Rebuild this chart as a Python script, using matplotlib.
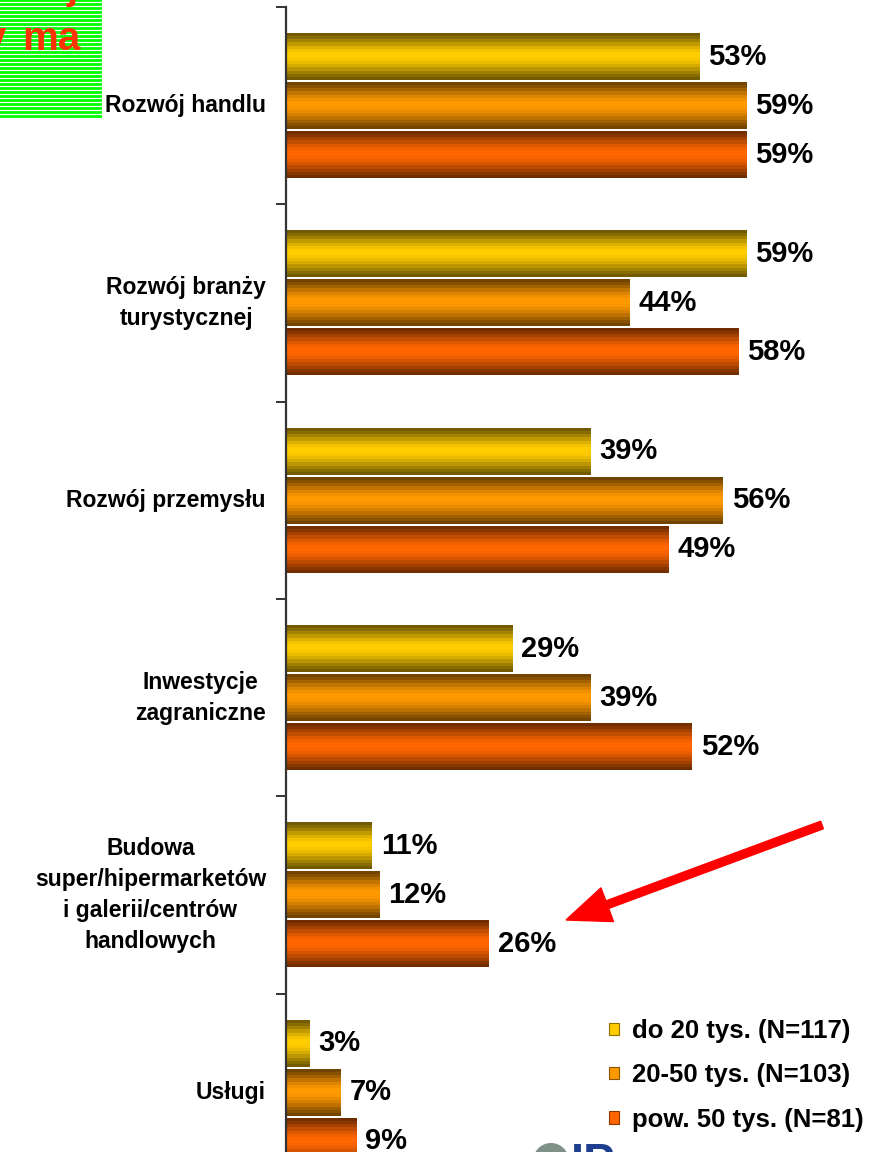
import numpy as np
import matplotlib
matplotlib.use("Agg")
import matplotlib.pyplot as plt
from matplotlib.patches import Rectangle, FancyArrow, Circle, Patch
from matplotlib.lines import Line2D
from matplotlib.colors import to_rgb

# ---------------- data ----------------
categories = [
    "Rozwój handlu",
    "Rozwój branży\nturystycznej",
    "Rozwój przemysłu",
    "Inwestycje\nzagraniczne",
    "Budowa\nsuper/hipermarketów\ni galerii/centrów\nhandlowych",
    "Usługi",
]
series_names = ["do 20 tys. (N=117)", "20-50 tys. (N=103)", "pow. 50 tys. (N=81)"]
small_town = [53, 59, 39, 29, 11, 3]
mid_town = [59, 44, 56, 39, 12, 7]
big_town = [59, 58, 49, 52, 26, 9]
series_values = [small_town, mid_town, big_town]
series_colors = ["#ffcc00", "#ff9900", "#ff6600"]

plt.rcParams['font.family'] = ['Liberation Sans', 'DejaVu Sans']

W, H = 869, 1152
DPI = 100
fig = plt.figure(figsize=(W / DPI, H / DPI), dpi=DPI)
fig.patch.set_facecolor("white")

# axes geometry in pixels
ax_left, ax_top, ax_bottom = 286, 7, 1191
ax = fig.add_axes([ax_left / W, 1 - ax_bottom / H, 1 - ax_left / W, (ax_bottom - ax_top) / H])
px_per_pct = 7.8
n = len(categories)
ax.set_facecolor("none")

slot = 0.2483
bar_h = 0.236
centers = np.arange(n) + 0.5

# banded cylinder shading profile (top -> bottom)
profile = np.array([0.45, 0.53, 0.64, 0.76, 0.87, 0.95, 1.0, 1.0, 0.98, 0.92,
                    0.84, 0.74, 0.63, 0.53, 0.45])

for k, (vals, col) in enumerate(zip(series_values, series_colors)):
    ypos = centers + (k - 1) * slot
    bars = ax.barh(ypos, vals, height=bar_h, color="none", edgecolor="none")
    base = np.array(to_rgb(col))
    img = (profile[:, None] * base[None, :])[:, None, :]
    for b, v in zip(bars, vals):
        x0, y0 = b.get_x(), b.get_y()
        w, h = b.get_width(), b.get_height()
        ax.imshow(img, extent=(x0, x0 + w, y0 + h, y0), aspect="auto",
                  interpolation="nearest", zorder=2)
        ax.text(x0 + w + 9 / px_per_pct, y0 + h / 2, f"{v}%", ha="left", va="center",
                fontsize=21, fontweight="bold", color="black", zorder=3)

ax.set_xlim(0, (W - ax_left) / px_per_pct)
ax.set_ylim(n, 0)

# spines and ticks
for s in ["top", "right", "bottom"]:
    ax.spines[s].set_visible(False)
ax.spines["left"].set_color("#333333")
ax.spines["left"].set_linewidth(1.6)
ax.set_xticks([])
ax.set_yticks(np.arange(n + 1))
ax.set_yticklabels([])
ax.tick_params(axis="y", which="major", direction="out", length=7, width=1.4, color="#333333")
ax.set_yticks(centers, minor=True)
ax.set_yticklabels(categories, minor=True)
ax.tick_params(axis="y", which="minor", length=0, pad=14.4, labelsize=16.5)
for t in ax.get_yticklabels(minor=True):
    t.set_fontweight("bold")
    t.set_multialignment("center")
    t.set_linespacing(1.45)
    t.set_verticalalignment("center")

# legend
handles = [Patch(facecolor=c, edgecolor=np.array(to_rgb(c)) * 0.55, linewidth=0.8) for c in series_colors]
leg = ax.legend(handles, series_names, loc="upper left",
                bbox_to_anchor=(609 / W, 1 - 1019 / H), bbox_transform=fig.transFigure,
                frameon=False, prop={"weight": "bold", "size": 18.5},
                handlelength=0.4, handleheight=0.36, handletextpad=0.5,
                labelspacing=0.79, borderpad=0, borderaxespad=0)

# ---------------- decorations ----------------
inch = fig.dpi_scale_trans

def P(x, y):
    return (x / DPI, (H - y) / DPI)

# green striped box top-left
gx0, gy0 = P(0, 119)
fig.add_artist(Rectangle((gx0, gy0), 102 / DPI, 119 / DPI, transform=inch,
                         facecolor="#00ff00", edgecolor="none", zorder=1))
for yy in np.arange(2, 119, 4):
    xa, ya = P(0, yy)
    xb, yb = P(102, yy)
    fig.add_artist(Line2D([xa, xb], [ya, yb], transform=inch, color="white", lw=0.9, zorder=2))

fig.text(22 / W, 1 - 50 / H, "ma", ha="left", va="baseline", fontsize=29,
         fontweight="bold", color="#ff3300", zorder=3)
fig.text(6 / W, 1 - 50 / H, "y", ha="right", va="baseline", fontsize=29,
         fontweight="bold", color="#ff3300", zorder=3)
fig.text(78 / W, 1 + 1 / H, "j", ha="right", va="baseline", fontsize=29,
         fontweight="bold", color="#ff3300", zorder=3)

# red arrow
tx, ty = P(822, 825)
hx, hy = P(566, 920)
fig.add_artist(FancyArrow(tx, ty, hx - tx, hy - ty, width=8 / DPI, head_width=36 / DPI,
                          head_length=44 / DPI, length_includes_head=True,
                          transform=inch, color="#ff0000", zorder=5))

# partial logo at bottom
cx, cy = P(551, 1161)
fig.add_artist(Circle((cx, cy), 18 / DPI, transform=inch, facecolor="#7f9188",
                      edgecolor="none", zorder=3))
fig.text(571 / W, 1 - 1142 / H, "IP", ha="left", va="top", fontsize=34,
         fontweight="bold", color="#1e3f8f", zorder=3)

fig.savefig("out.png", dpi=DPI)
